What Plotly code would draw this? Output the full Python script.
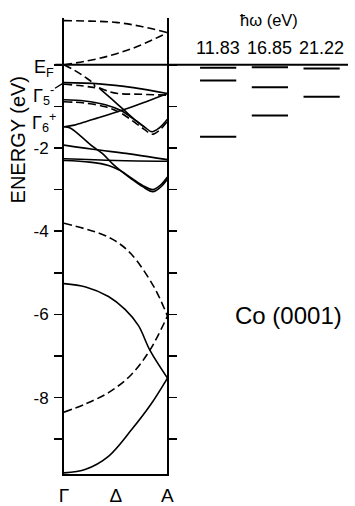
import plotly.graph_objects as go

# ---------------- data ----------------
EF = 0.0
K_LABELS = ["Γ", "Δ", "A"]
K_TICKS = [0.0, 0.5, 1.0]

# dashed bands (k: 0 = Γ, 1 = A ; energy in eV)
k_d1 = [0, 0.25, 0.5, 0.75, 1.0]
e_d1 = [1.06, 1.05, 1.02, 0.92, 0.77]
k_d2 = [0, 0.28, 0.5, 0.72, 1.0]
e_d2 = [0.0, 0.12, 0.26, 0.45, 0.77]
k_d3 = [0, 0.1, 0.2, 0.28, 0.30]
e_d3 = [0.0, -0.13, -0.29, -0.44, -0.53]
k_d4 = [0, 0.15, 0.30]
e_d4 = [-0.47, -0.50, -0.55]
k_d5 = [0.34, 0.43, 0.52, 0.75, 1.0]
e_d5 = [-0.55, -0.64, -0.69, -0.71, -0.73]
k_d6 = [0, 0.2, 0.4, 0.55, 0.68, 0.78, 0.85, 0.92, 1.0]
e_d6 = [-0.89, -0.92, -1.01, -1.16, -1.38, -1.56, -1.67, -1.58, -1.36]
k_d7 = [0, 0.34, 0.5, 0.65, 0.87, 1.0]
e_d7 = [-3.81, -4.05, -4.24, -4.55, -5.34, -6.04]
k_d8 = [0, 0.21, 0.43, 0.65, 0.83, 1.0]
e_d8 = [-8.35, -8.15, -7.88, -7.45, -6.86, -6.04]

# solid bands
k_s1 = [0, 0.34, 0.67, 1.0]
e_s1 = [-0.43, -0.46, -0.55, -0.69]
k_s2 = [0, 0.2, 0.4, 0.55, 0.68, 0.78, 0.85, 0.92, 1.0]
e_s2 = [-0.84, -0.87, -0.96, -1.10, -1.32, -1.50, -1.61, -1.52, -1.31]
k_s3 = [0.34, 0.46, 0.59, 0.70, 0.78]
e_s3 = [-0.56, -0.82, -1.11, -1.35, -1.50]
k_s4 = [0, 0.1, 0.23, 0.34, 0.59, 0.8, 1.0]
e_s4 = [-1.49, -1.45, -1.35, -1.27, -1.07, -0.88, -0.69]
k_s5 = [0, 0.06, 0.15, 0.28, 0.37, 0.47, 0.55, 0.65, 0.76, 0.86, 0.93, 1.0]
e_s5 = [-1.49, -1.52, -1.69, -1.97, -2.13, -2.38, -2.55, -2.74, -2.93, -3.05, -2.95, -2.75]
k_s6 = [0, 0.34, 0.6, 1.0]
e_s6 = [-1.93, -2.05, -2.13, -2.28]
k_s7 = [0, 0.5, 1.0]
e_s7 = [-2.26, -2.30, -2.32]
k_s8 = [0, 0.25, 0.43, 0.55, 0.65, 0.76, 0.86, 0.93, 1.0]
e_s8 = [-2.30, -2.34, -2.42, -2.55, -2.72, -2.90, -3.00, -2.90, -2.70]
k_s9 = [0, 0.21, 0.43, 0.59, 0.72, 0.83, 1.0]
e_s9 = [-5.26, -5.34, -5.57, -5.88, -6.27, -6.86, -7.53]
k_s10 = [0, 0.21, 0.43, 0.65, 0.84, 1.0]
e_s10 = [-9.81, -9.72, -9.41, -8.78, -8.16, -7.53]

# experimental peak energies for each photon energy
hw = [11.83, 16.85, 21.22]
exp_1183 = [-0.07, -0.38, -1.73]
exp_1685 = [-0.06, -0.54, -1.22]
exp_2122 = [-0.09, -0.77]

Y_TICKS = [-8, -6, -4, -2, 0]
Y_TICKTEXT = ["-8", "-6", "-4", "-2", " "]
Y_MINOR = [-9, -7, -5, -3, -1]

# ---------------- figure ----------------
FONT = "Liberation Sans, Arial, Helvetica, sans-serif"
BLACK = "black"
fig = go.Figure()

dashed = [(k_d1, e_d1), (k_d2, e_d2), (k_d3, e_d3), (k_d4, e_d4), (k_d5, e_d5),
          (k_d6, e_d6), (k_d7, e_d7), (k_d8, e_d8)]
solid = [(k_s1, e_s1), (k_s2, e_s2), (k_s3, e_s3), (k_s4, e_s4), (k_s5, e_s5),
         (k_s6, e_s6), (k_s7, e_s7), (k_s8, e_s8), (k_s9, e_s9), (k_s10, e_s10)]

for k, e in dashed:
    fig.add_trace(go.Scatter(x=k, y=e, mode="lines", line_shape="spline",
                             line=dict(color=BLACK, width=1.6, dash="8px,4px"),
                             showlegend=False, hoverinfo="skip"))
for k, e in solid:
    fig.add_trace(go.Scatter(x=k, y=e, mode="lines", line_shape="spline",
                             line=dict(color=BLACK, width=1.6),
                             showlegend=False, hoverinfo="skip"))

# experimental bars on second x axis
half = 0.35
for i, vals in enumerate([exp_1183, exp_1685, exp_2122]):
    xs, ys = [], []
    for v in vals:
        xs += [i - half, i + half, None]
        ys += [v, v, None]
    fig.add_trace(go.Scatter(x=xs, y=ys, mode="lines", xaxis="x2", yaxis="y",
                             line=dict(color=BLACK, width=2),
                             showlegend=False, hoverinfo="skip"))

W, H = 355, 506
L, R, T, B = 64, 0, 18, 20
pw = W - L - R
ph = H - T - B
px_per_ev = 42.7
y_top = (66 - 18) / px_per_ev
y_bot = -(486 - 66) / px_per_ev

def px_x(p):
    return (p - L) / pw

def px_y(p):
    return (H - B - p) / ph

split = 106 / pw

fig.update_layout(
    template="simple_white",
    width=W, height=H,
    margin=dict(l=L, r=R, t=T, b=B),
    paper_bgcolor="white", plot_bgcolor="white",
    font=dict(family=FONT, color=BLACK, size=16),
    hovermode=False,
    xaxis=dict(domain=[0, split], range=[0, 1], showgrid=False, zeroline=False,
               showline=True, linecolor=BLACK, linewidth=2, mirror=False,
               tickvals=K_TICKS, ticktext=K_LABELS, ticks="",
               tickfont=dict(size=19, color=BLACK), ticklabelstandoff=3),
    xaxis2=dict(domain=[split, 1], range=[-0.98, 2.51], visible=False,
                anchor="y"),
    yaxis=dict(range=[y_bot, y_top], showgrid=False, zeroline=False,
               showline=True, linecolor=BLACK, linewidth=2, mirror="ticks",
               ticks="outside", ticklen=8, tickwidth=1.5, tickcolor=BLACK,
               tickvals=Y_TICKS, ticktext=Y_TICKTEXT,
               tickfont=dict(size=17, color=BLACK), ticklabelstandoff=2,
               minor=dict(tickvals=Y_MINOR, ticks="outside", ticklen=8,
                          tickwidth=1.5, tickcolor=BLACK)),
)

# Fermi level line across the whole figure
fig.add_shape(type="line", xref="paper", yref="y", x0=px_x(55), x1=1.0,
              y0=EF, y1=EF, opacity=1, layer="above",
              line=dict(color=BLACK, width=2))

def f(size):
    return dict(size=size, color=BLACK, family=FONT)

C = dict(xanchor="center", yanchor="middle")
ann = []
ann.append(dict(text="E<sub>F</sub>", xref="paper", yref="y", x=px_x(43), y=EF,
                yshift=-4, showarrow=False, font=f(18), **C))
ann.append(dict(text="Γ<sub>5</sub><sup>-</sup>", xref="x", yref="y", x=0, y=e_s1[0],
                ax=-21, ay=13, showarrow=True, arrowhead=0, arrowwidth=1.3,
                arrowcolor=BLACK, font=f(18)))
ann.append(dict(text="Γ<sub>6</sub><sup>+</sup>", xref="paper", yref="y",
                x=px_x(43), y=e_s4[0] + 0.1, showarrow=False, font=f(18), **C))
ann.append(dict(text="ENERGY (eV)", xref="paper", yref="paper", x=px_x(17),
                y=px_y(143.5), textangle=-90, showarrow=False, font=f(20), **C))
ann.append(dict(text="ħω (eV)", xref="paper", yref="paper", x=px_x(274),
                y=px_y(20), showarrow=False, font=f(16.5), **C))
for i, v in enumerate(hw):
    ann.append(dict(text=f"{v:.2f}", xref="x2", yref="paper", x=i, y=px_y(48.5),
                    showarrow=False, font=f(18), **C))
ann.append(dict(text="Co (0001)", xref="paper", yref="paper", x=px_x(294),
                y=px_y(323), showarrow=False, font=f(24), **C))
fig.update_layout(annotations=ann)

fig.write_html("out.html", config={"displayModeBar": False, "staticPlot": True},
               post_script="document.body.style.margin='0';document.body.style.padding='0';")
